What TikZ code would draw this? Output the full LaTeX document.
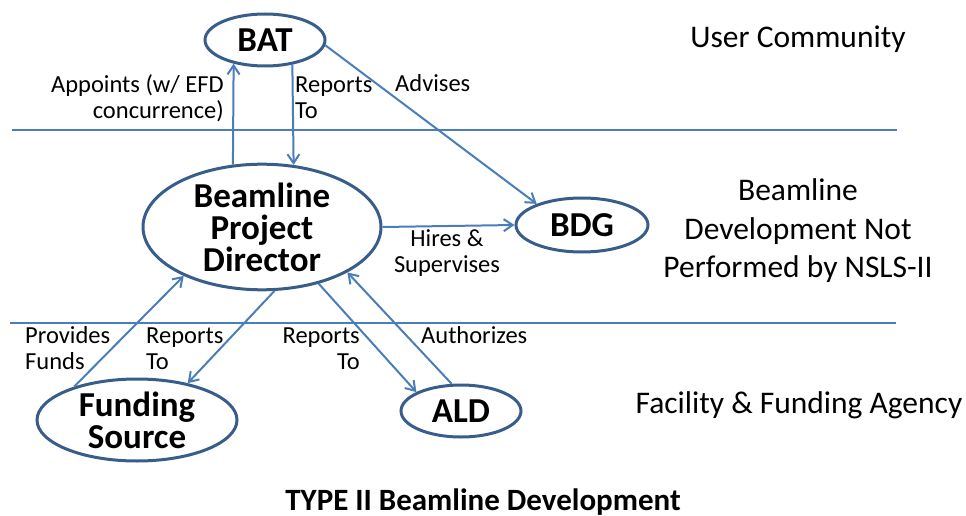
\documentclass[tikz,border=0pt]{standalone}
\usepackage{fontspec}
\setmainfont{Carlito}
\usepackage{tikz}
\usetikzlibrary{positioning, arrows.meta, shapes.geometric}
\definecolor{edgeblue}{RGB}{74,126,187}
\definecolor{rimblue}{RGB}{56,93,138}

\begin{document}
\begin{tikzpicture}[x=1pt,y=-1pt,>={Straight Barb[length=9pt,width=12pt]}]

	\tikzstyle{oval}=[ellipse,draw=rimblue,line width=3pt,inner sep=0pt,align=center,font=\fontsize{35}{32}\selectfont\bfseries]
	\tikzstyle{link}=[->,draw=edgeblue,line width=2pt]
	\tikzstyle{lab}=[inner sep=0pt,font=\fontsize{24.5}{26}\selectfont]
	\tikzstyle{zone}=[inner sep=0pt,align=center,font=\fontsize{31.5}{38.5}\selectfont]
	\tikzstyle{divider}=[draw=edgeblue,line width=1.2pt]

	\useasboundingbox (0,0) rectangle (966,516);

	\draw[divider] (12,130) -- (897,130);
	\draw[divider] (10,323) -- (896,323);

	\node[oval,minimum width=120pt,minimum height=52pt] (bat) at (265,40) {BAT};
	\node[oval,minimum width=238pt,minimum height=122pt] (pd) at (262,227) {Beamline\\Project\\Director};
	\node[oval,minimum width=132pt,minimum height=54pt] (bdg) at (582,225) {BDG};
	\node[oval,minimum width=200pt,minimum height=82pt] (fund) at (137,420) {Funding\\Source};
	\node[oval,minimum width=120pt,minimum height=52pt] (ald) at (461,411) {ALD};

	\draw[link] (pd.115) -- (bat.217);
	\draw[link] (bat.318) -- (pd.63);
	\draw[link] (bat.-5) -- (bdg.155);
	\draw[link] (pd.east) -- (bdg.west);
	\draw[link] (fund.152) -- (pd.212);
	\draw[link] (pd.281) -- (fund.36);
	\draw[link] (pd.315) -- (ald.157);
	\draw[link] (ald.109) -- (pd.332);

	\node[lab,anchor=east,align=right] (appoints) at (224,98) {Appoints (w/ EFD\\concurrence)};
	\node[lab,anchor=west,align=left] (reportsbat) at (295,97.5) {Reports\\To};
	\node[lab,anchor=base west] (advises) at (395,92) {Advises};
	\node[lab,align=center] (hires) at (447,253) {Hires \&\\Supervises};
	\node[lab,anchor=west,align=left] (provides) at (25,348) {Provides\\Funds};
	\node[lab,anchor=west,align=left] (reportsfund) at (146,348.5) {Reports\\To};
	\node[lab,anchor=east,align=right] (reportsald) at (360,348.5) {Reports\\To};
	\node[lab,anchor=base west] (authorizes) at (421,343) {Authorizes};

	\node[zone,anchor=base] (users) at (798,48) {User Community};
	\node[zone] (bdgzone) at (798,231) {Beamline\\Development Not\\Performed by NSLS-II};
	\node[zone,anchor=base] (facility) at (799,413) {Facility \& Funding Agency};
	\node[anchor=base,inner sep=0pt,font=\fontsize{31}{32}\selectfont\bfseries] (title) at (483,510) {TYPE II Beamline Development};
\end{tikzpicture}
\end{document}
